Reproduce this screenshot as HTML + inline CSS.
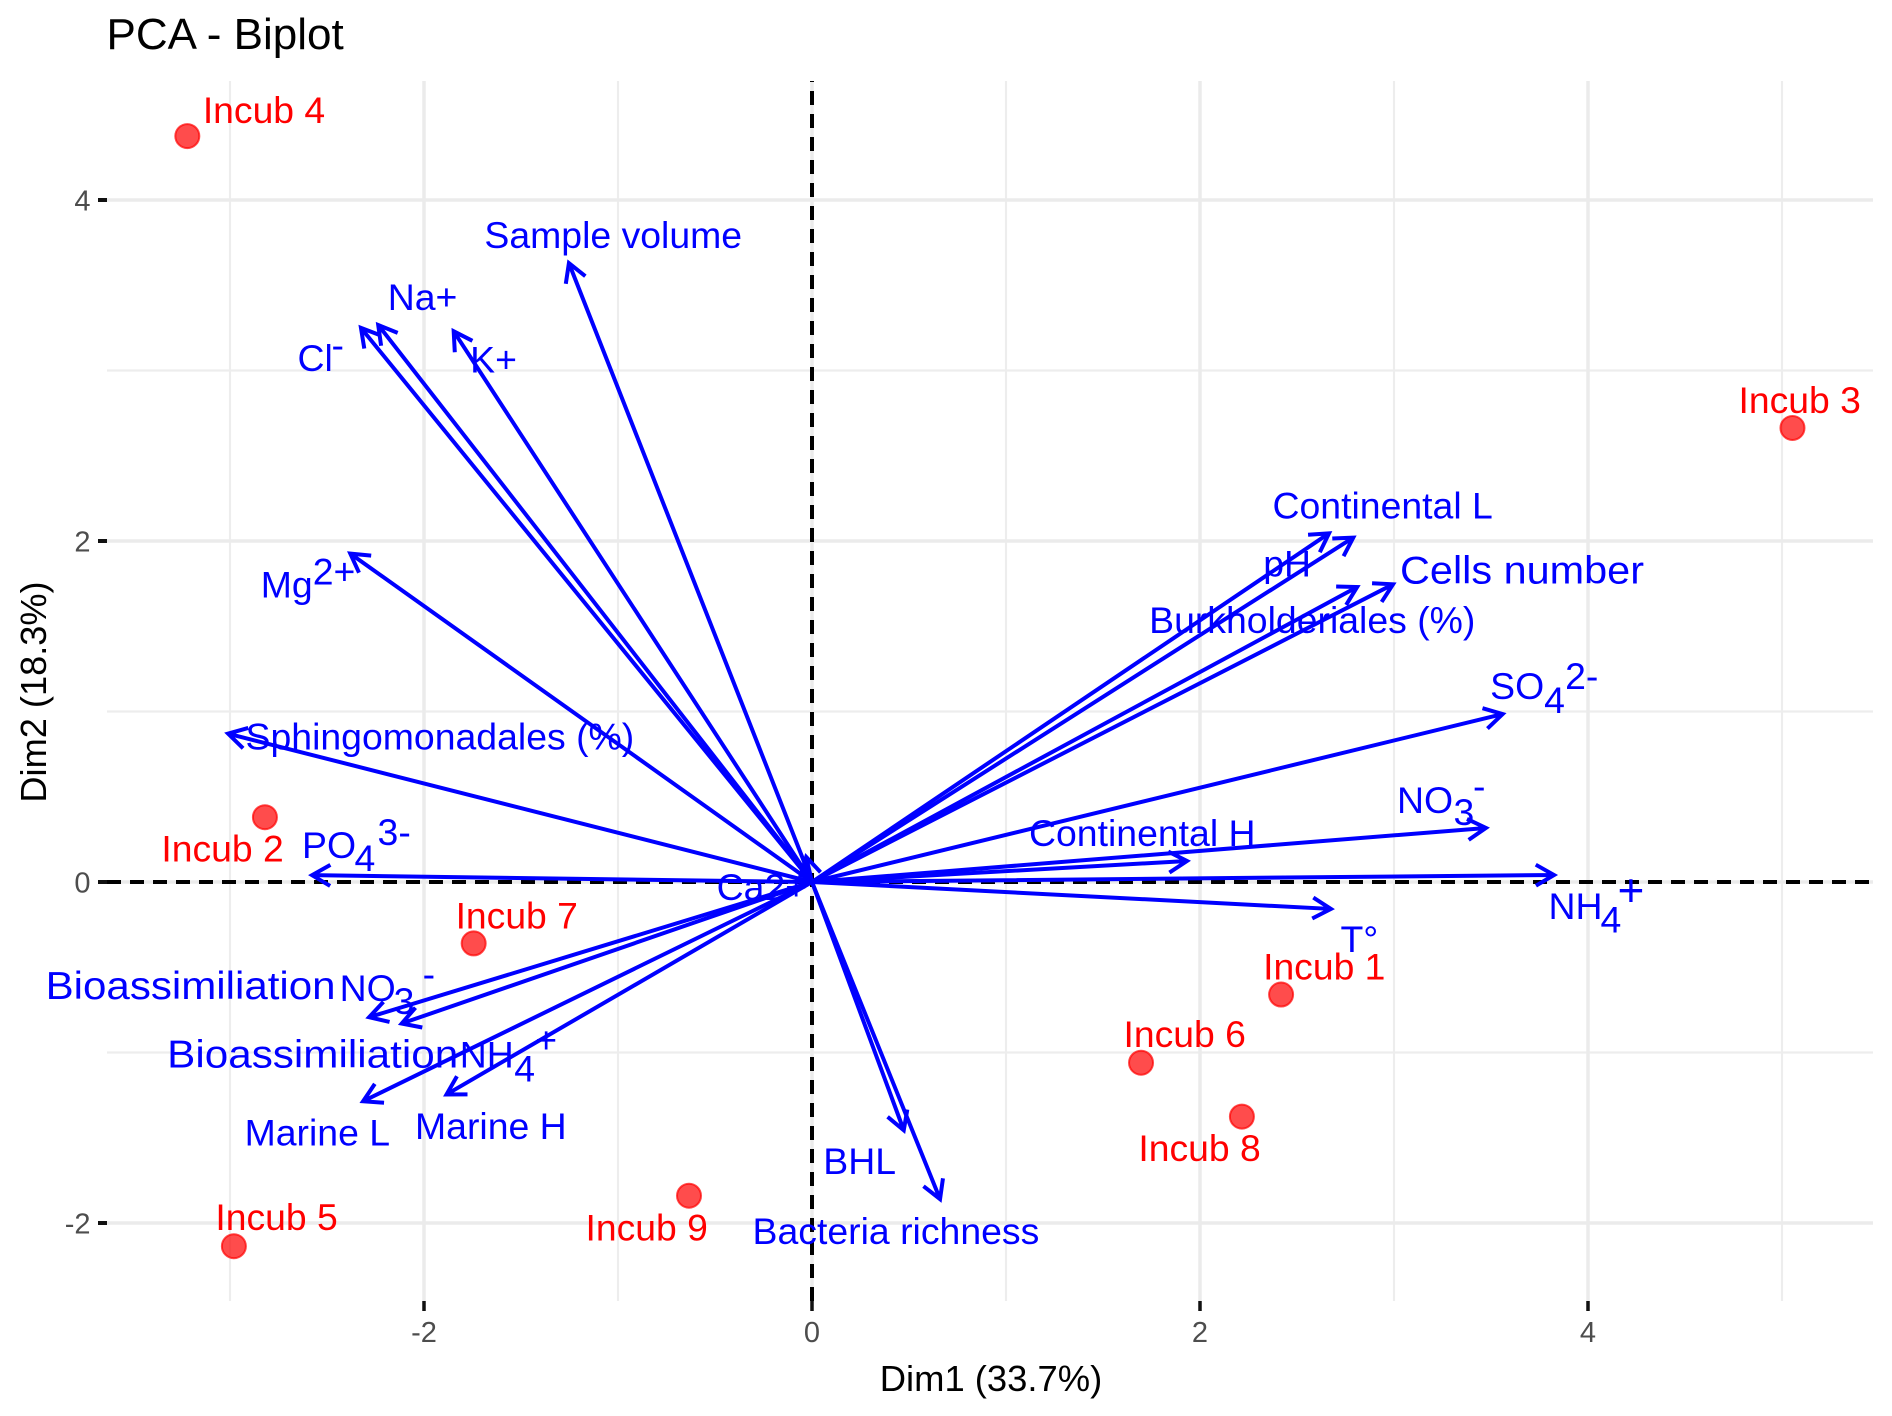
<!DOCTYPE html>
<html lang="en">
<head>
<meta charset="utf-8">
<title>PCA - Biplot</title>
<style>
html,body{margin:0;padding:0;background:#fff;}
svg{display:block;}
text{font-family:"Liberation Sans",sans-serif;}
</style>
</head>
<body>
<svg id="chart" xmlns="http://www.w3.org/2000/svg" width="1892" height="1416" viewBox="0 0 1892 1416">
  <rect x="0" y="0" width="1892" height="1416" fill="#ffffff"/>
  <g id="grid"></g>
  <g id="ref-lines"></g>
  <g id="axes"></g>
  <g id="points"></g>
  <g id="arrows"></g>
  <g id="labels"></g>
  <text x="106.5" y="49" font-size="44" fill="#000000">PCA - Biplot</text>
  <text x="991" y="1391" font-size="36.4" fill="#000000" text-anchor="middle">Dim1 (33.7%)</text>
  <text transform="translate(46,692) rotate(-90)" font-size="36.2" fill="#000000" text-anchor="middle">Dim2 (18.3%)</text>
</svg>
<script>
const xMajorTicks = [-2, 0, 2, 4];
const yMajorTicks = [-2, 0, 2, 4];
const xMinorTicks = [-3, -1, 1, 3, 5];
const yMinorTicks = [-1, 1, 3];

const pointNames = ['Incub 1', 'Incub 2', 'Incub 3', 'Incub 4', 'Incub 5', 'Incub 6', 'Incub 7', 'Incub 8', 'Incub 9'];
const pointDim1 = [2.418, -2.82, 5.054, -3.22, -2.98, 1.696, -1.744, 2.216, -0.634];
const pointDim2 = [-0.66, 0.38, 2.663, 4.375, -2.136, -1.06, -0.36, -1.376, -1.84];

const varNames = ['Sample volume', 'Na+', 'Cl-', 'K+', 'Mg2+', 'Sphingomonadales (%)', 'PO43-', 'Ca2+',
  'BioassimiliationNO3-', 'BioassimiliationNH4+', 'Marine L', 'Marine H', 'BHL', 'Bacteria richness',
  'Continental L', 'pH', 'Burkholderiales (%)', 'Cells number', 'SO42-', 'NO3-', 'Continental H', 'NH4+', 'T°'];
const varDim1 = [-1.253, -2.236, -2.325, -1.847, -2.38, -3.01, -2.577, -0.03,
  -2.283, -2.115, -2.314, -1.884, 0.473, 0.66,
  2.665, 2.79, 2.81, 2.995, 3.56, 3.474, 1.933, 3.825, 2.675];
const varDim2 = [3.63, 3.267, 3.25, 3.23, 1.926, 0.87, 0.04, 0.147,
  -0.793, -0.83, -1.286, -1.246, -1.456, -1.86,
  2.045, 2.02, 1.73, 1.746, 0.985, 0.317, 0.123, 0.041, -0.158];

const panel = { left: 107, right: 1873, top: 81, bottom: 1301 };
function xScale(v) { return 812 + 194 * v; }
function yScale(v) { return 882 - 170.5 * v; }

const NS = 'http://www.w3.org/2000/svg';
function make(tag, attrs, parent) {
  const el = document.createElementNS(NS, tag);
  for (const k in attrs) el.setAttribute(k, attrs[k]);
  parent.appendChild(el);
  return el;
}

const gridG = document.getElementById('grid');
xMinorTicks.forEach(function (t) {
  const el = make('line', { x1: xScale(t), x2: xScale(t), y1: panel.top, y2: panel.bottom, stroke: '#ededed', 'stroke-width': 2.2 }, gridG);
  
  
});
yMinorTicks.forEach(function (t) {
  const el = make('line', { x1: panel.left, x2: panel.right, y1: yScale(t), y2: yScale(t), stroke: '#ededed', 'stroke-width': 2.2 }, gridG);
  
  
});
xMajorTicks.forEach(function (t) {
  const el = make('line', { x1: xScale(t), x2: xScale(t), y1: panel.top, y2: panel.bottom, stroke: '#ebebeb', 'stroke-width': 3.5 }, gridG);
  
  
});
yMajorTicks.forEach(function (t) {
  const el = make('line', { x1: panel.left, x2: panel.right, y1: yScale(t), y2: yScale(t), stroke: '#ebebeb', 'stroke-width': 3.5 }, gridG);
  
  
});

const refG = document.getElementById('ref-lines');
const hRef = make('line', { x1: panel.left, x2: panel.right, y1: yScale(0), y2: yScale(0), stroke: '#000', 'stroke-width': 4, 'stroke-dasharray': '14 9' }, refG);


const vRef = make('line', { x1: xScale(0), x2: xScale(0), y1: panel.bottom, y2: panel.top, stroke: '#000', 'stroke-width': 4, 'stroke-dasharray': '14 9' }, refG);



const axesG = document.getElementById('axes');
xMajorTicks.forEach(function (t) {
  const tick = make('line', { x1: xScale(t), x2: xScale(t), y1: panel.bottom, y2: panel.bottom + 10, stroke: '#111', 'stroke-width': 3.5 }, axesG);
  
  
  const lab = make('text', { x: xScale(t), y: 1342, 'font-size': 29, fill: '#4d4d4d', 'text-anchor': 'middle' }, axesG);
  lab.textContent = String(t);
  
  
});
yMajorTicks.forEach(function (t) {
  const tick = make('line', { x1: panel.left - 9, x2: panel.left, y1: yScale(t), y2: yScale(t), stroke: '#111', 'stroke-width': 4 }, axesG);
  
  
  const lab = make('text', { x: 90.5, y: yScale(t) + 10.5, 'font-size': 29, fill: '#4d4d4d', 'text-anchor': 'end' }, axesG);
  lab.textContent = String(t);
  
  
});

const pointsG = document.getElementById('points');
pointNames.forEach(function (name, i) {
  const c = make('circle', { cx: xScale(pointDim1[i]), cy: yScale(pointDim2[i]), r: 12, fill: '#ff0000', 'fill-opacity': 0.7, stroke: '#ff0000', 'stroke-opacity': 0.7, 'stroke-width': 2 }, pointsG);
  
  
});

const arrowsG = document.getElementById('arrows');
const HEAD = 21;
const HEAD_ANGLE = Math.PI / 6;
varNames.forEach(function (name, i) {
  const x0 = xScale(0), y0 = yScale(0);
  const x1 = xScale(varDim1[i]), y1 = yScale(varDim2[i]);
  const a = Math.atan2(y0 - y1, x0 - x1);
  const bx1 = x1 + HEAD * Math.cos(a + HEAD_ANGLE), by1 = y1 + HEAD * Math.sin(a + HEAD_ANGLE);
  const bx2 = x1 + HEAD * Math.cos(a - HEAD_ANGLE), by2 = y1 + HEAD * Math.sin(a - HEAD_ANGLE);
  const d = 'M' + x0 + ' ' + y0 + 'L' + x1 + ' ' + y1 + 'M' + bx1 + ' ' + by1 + 'L' + x1 + ' ' + y1 + 'L' + bx2 + ' ' + by2;
  const p = make('path', { d: d, fill: 'none', stroke: '#0000ff', 'stroke-width': 4, 'stroke-linejoin': 'miter' }, arrowsG);
  
  
});

/* Label placement: offset from the mark it annotates, then text runs (text, dx, dy, optional width, optional size). */
const labelLayout = {
  'Sample volume': { off: [-83, -15] },
  'Na+': { off: [11, -15] },
  'Cl-': { off: [-62, 43], runs: [['Cl', 0, 0], ['-', 34, -13]] },
  'K+': { off: [18, 41] },
  'Mg2+': { off: [-88, 44], runs: [['Mg', 0, 0], ['2+', 52, -13]] },
  'Sphingomonadales (%)': { off: [19, 16] },
  'PO43-': { off: [-8.5, -17], runs: [['PO', 0, 0], ['4', 52.5, 13], ['3-', 75.5, -13]] },
  'Ca2+': { off: [-88, 43] },
  'BioassimiliationNO3-': { off: [-322, -18], runs: [['Bioassimiliation', 0, 0, 290], ['NO', 294, 2], ['3', 348, 15], ['-', 377, -12]] },
  'BioassimiliationNH4+': { off: [-233, 44], runs: [['Bioassimiliation', 0, 0, 291], ['NH', 292.5, 0], ['4', 347, 14], ['+', 368, -14.5]] },
  'Marine L': { off: [-117, 44] },
  'Marine H': { off: [-30, 44.5] },
  'BHL': { off: [-79, 44] },
  'Bacteria richness': { off: [-186, 45] },
  'Continental L': { off: [-55, -15] },
  'pH': { off: [-88.5, 39] },
  'Burkholderiales (%)': { off: [-206.5, 46] },
  'Cells number': { off: [8.5, -1], runs: [['Cells number', 0, 0, 244]] },
  'SO42-': { off: [-11, -15], runs: [['SO', 0, 0], ['4', 54, 14], ['2-', 75, -10]] },
  'NO3-': { off: [-87.5, -15], runs: [['NO', 0, 0], ['3', 56.5, 12], ['-', 76, -14]] },
  'Continental H': { off: [-156.5, -15] },
  'NH4+': { off: [-4, 44], runs: [['NH', 0, 0], ['4', 52, 13.5], ['+', 69, -13, 0, 46]] },
  'T°': { off: [11, 43] }
};
const pointLabelOffsets = {
  'Incub 1': [-16.5, -15],
  'Incub 2': [-102, 44.5],
  'Incub 3': [-52.5, -15],
  'Incub 4': [17, -13],
  'Incub 5': [-17, -16],
  'Incub 6': [-16, -15.5],
  'Incub 7': [-16.6, -15],
  'Incub 8': [-102, 44.4],
  'Incub 9': [-102, 45]
};
const LABEL_NUDGE = -1.5;

const labelsG = document.getElementById('labels');
pointNames.forEach(function (name, i) {
  const off = pointLabelOffsets[name];
  const t = make('text', { x: xScale(pointDim1[i]) + off[0] + LABEL_NUDGE, y: yScale(pointDim2[i]) + off[1], 'font-size': 37.3, fill: '#ff0000' }, labelsG);
  t.textContent = name;
  
  
});
varNames.forEach(function (name, i) {
  const layout = labelLayout[name];
  const ax = xScale(varDim1[i]) + layout.off[0] + LABEL_NUDGE;
  const ay = yScale(varDim2[i]) + layout.off[1];
  const t = make('text', { x: ax, y: ay, 'font-size': 37.4, fill: '#0000ff' }, labelsG);
  
  
  if (!layout.runs) {
    t.textContent = name;
    return;
  }
  layout.runs.forEach(function (run) {
    const attrs = { x: ax + run[1], y: ay + run[2] };
    if (run[3]) {
      attrs.textLength = run[3];
      attrs.lengthAdjust = 'spacingAndGlyphs';
      attrs['font-size'] = 39;
    }
    if (run[4]) {
      attrs['font-size'] = run[4];
    }
    const s = make('tspan', attrs, t);
    s.textContent = run[0];
  });
});
</script>
</body>
</html>
